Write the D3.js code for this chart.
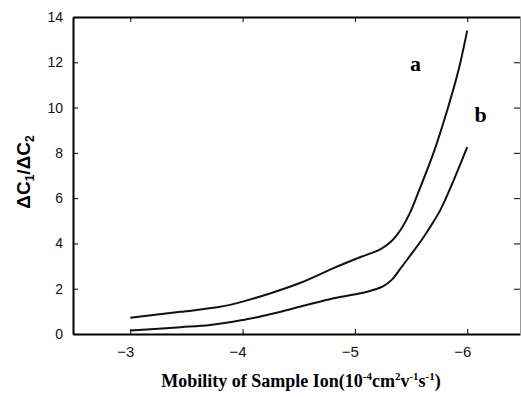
<!DOCTYPE html>
<html>
<head>
<meta charset="utf-8">
<script src="https://cdn.jsdelivr.net/npm/d3@7"></script>
<style>
  body { margin: 0; background: #fff; }
  .tick text { font-family: "Liberation Sans", Arial, sans-serif; fill: #111; }
</style>
</head>
<body>
<div id="chart-area"></div>
<script>
// values (x = mobility, y = dC1/dC2)
const curveA_x = [-3, -3.45, -3.8, -4.0, -4.25, -4.51, -4.81, -5.05, -5.23, -5.32, -5.4, -5.49, -5.56, -5.7, -5.82, -5.92, -6.0]
const curveA_y = [0.72, 0.98, 1.2, 1.43, 1.8, 2.25, 2.91, 3.4, 3.75, 4.07, 4.55, 5.35, 6.2, 8.0, 9.85, 11.6, 13.4]
const curveB_x = [-3, -3.45, -3.71, -4.0, -4.13, -4.51, -4.81, -5.11, -5.25, -5.33, -5.4, -5.49, -5.58, -5.66, -5.76, -5.88, -6.0]
const curveB_y = [0.15, 0.3, 0.4, 0.62, 0.74, 1.2, 1.58, 1.87, 2.1, 2.4, 2.85, 3.45, 4.05, 4.65, 5.47, 6.8, 8.25]
const xTicks = [-3, -4, -5, -6]
const yTicks = [0, 2, 4, 6, 8, 10, 12, 14]

const margin = { left: 73, top: 17, right: 1, bottom: 63 }
const width = 521 - margin.left - margin.right
const height = 397 - margin.top - margin.bottom

const svg = d3.select('#chart-area').append('svg')
  .attr('width', 521)
  .attr('height', 397)

const g = svg.append('g')
  .attr('transform', `translate(${margin.left},${margin.top})`)

const x = d3.scaleLinear().domain([-2.49, -6.47]).range([0, width])
const y = d3.scaleLinear().domain([0, 14]).range([height, 0])

const fmt = d => d < 0 ? '\u2212' + Math.abs(d) : d

// bottom axis, ticks pointing up
const bottomAxis = g.append('g')
  .attr('transform', `translate(0, ${height})`)
  .call(d3.axisBottom(x).tickValues(xTicks).tickSizeInner(-5).tickSizeOuter(0).tickPadding(12).tickFormat(fmt))
bottomAxis.select('.domain').attr('stroke-width', 2)
bottomAxis.selectAll('.tick text').attr('font-size', '15px').attr('dx', -5)

// left axis, ticks pointing right
const leftAxis = g.append('g')
  .call(d3.axisLeft(y).tickValues(yTicks).tickSizeInner(-5).tickSizeOuter(0).tickPadding(10))
leftAxis.select('.domain').attr('stroke-width', 2)
leftAxis.selectAll('.tick text').attr('font-size', '14px')

// top and right frame
const topAxis = g.append('g')
  .call(d3.axisTop(x).tickValues(xTicks).tickSizeInner(-5).tickSizeOuter(0).tickFormat(''))
topAxis.select('.domain').attr('stroke-width', 2)

const rightAxis = g.append('g')
  .attr('transform', `translate(${width}, 0)`)
  .call(d3.axisRight(y).tickValues(yTicks).tickSizeInner(-6).tickSizeOuter(0).tickFormat(''))
rightAxis.select('.domain').attr('stroke', '#999')

const line = d3.line()
  .x(d => x(d[0]))
  .y(d => y(d[1]))
  .curve(d3.curveCatmullRom.alpha(0.5))

g.append('path')
  .datum(d3.zip(curveA_x, curveA_y))
  .attr('d', line)
  .attr('fill', 'none')
  .attr('stroke', '#111')
  .attr('stroke-width', 2)

g.append('path')
  .datum(d3.zip(curveB_x, curveB_y))
  .attr('d', line)
  .attr('fill', 'none')
  .attr('stroke', '#111')
  .attr('stroke-width', 2)

// curve labels
g.append('text')
  .attr('x', x(-5.54))
  .attr('y', y(11.6))
  .attr('font-family', '"Liberation Serif", "Times New Roman", serif')
  .attr('font-weight', 'bold')
  .attr('font-size', '22px')
  .attr('text-anchor', 'middle')
  .text('a')

g.append('text')
  .attr('x', x(-6.12))
  .attr('y', y(9.35))
  .attr('font-family', '"Liberation Serif", "Times New Roman", serif')
  .attr('font-weight', 'bold')
  .attr('font-size', '22px')
  .attr('text-anchor', 'middle')
  .text('b')

// y label
const yl = svg.append('text')
  .attr('transform', 'translate(30, 172) rotate(-90)')
  .attr('text-anchor', 'middle')
  .attr('font-family', '"Liberation Sans", Arial, sans-serif')
  .attr('font-weight', 'bold')
  .attr('font-size', '19px')
yl.append('tspan').text('\u0394C')
yl.append('tspan').attr('font-size', '12px').attr('dy', 4).text('1')
yl.append('tspan').attr('dy', -4).text('/\u0394C')
yl.append('tspan').attr('font-size', '12px').attr('dy', 4).text('2')

// x label
const xl = svg.append('text')
  .attr('x', 301)
  .attr('y', 387)
  .attr('text-anchor', 'middle')
  .attr('font-family', '"Liberation Serif", "Times New Roman", serif')
  .attr('font-weight', 'bold')
  .attr('font-size', '18px')
xl.append('tspan').text('Mobility of Sample Ion(10')
xl.append('tspan').attr('font-size', '11px').attr('dy', -7).text('-4')
xl.append('tspan').attr('dy', 7).text('cm')
xl.append('tspan').attr('font-size', '11px').attr('dy', -7).text('2')
xl.append('tspan').attr('dy', 7).text('v')
xl.append('tspan').attr('font-size', '11px').attr('dy', -7).text('-1')
xl.append('tspan').attr('dy', 7).text('s')
xl.append('tspan').attr('font-size', '11px').attr('dy', -7).text('-1')
xl.append('tspan').attr('dy', 7).text(')')
</script>
</body>
</html>
